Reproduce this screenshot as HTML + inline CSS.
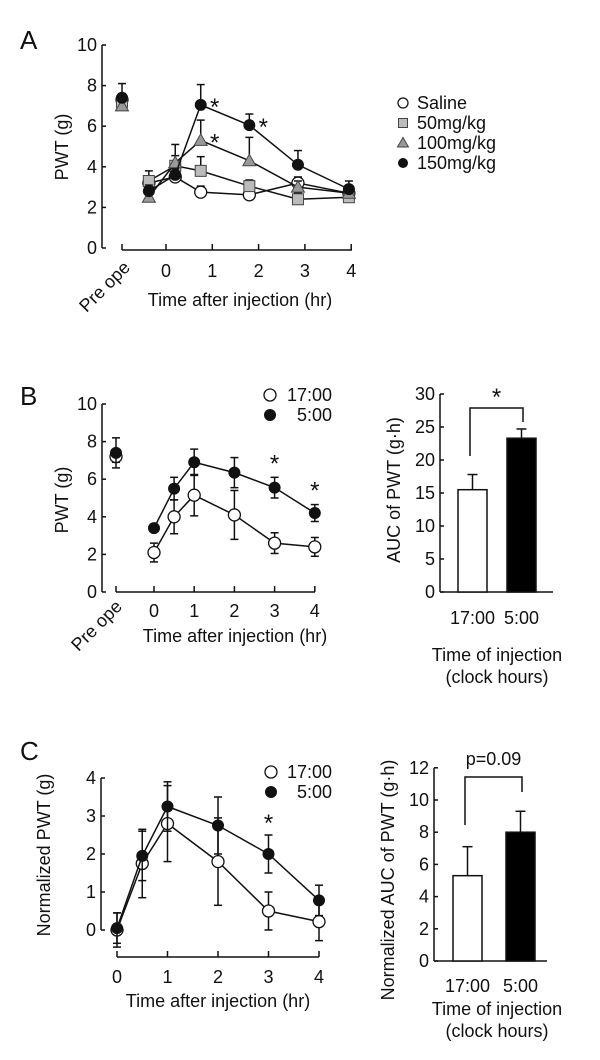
<!DOCTYPE html>
<html><head><meta charset="utf-8">
<style>
body{margin:0;background:#fff;}
svg{display:block;font-family:"Liberation Sans",sans-serif;}
text{fill:#111;}
</style></head>
<body>
<svg id="fig" width="600" height="1060" viewBox="0 0 600 1060" xmlns="http://www.w3.org/2000/svg">
<text x="20" y="49" font-size="26">A</text>
<text x="20" y="405" font-size="26">B</text>
<text x="20" y="760" font-size="26">C</text>
</svg>
<script>
// ---------- Panel A data ----------
const aTimes = [-0.37, 0.2, 0.75, 1.8, 2.85, 3.95];
const aSaline = [7.3, 3.2, 3.5, 2.75, 2.62, 3.2, 2.7];
const a50 = [7.2, 3.3, 4.05, 3.8, 3.05, 2.4, 2.5];
const a100 = [7.0, 2.5, 4.2, 5.3, 4.3, 3.0, 2.7];
const a150 = [7.4, 2.8, 3.6, 7.05, 6.05, 4.1, 2.9];
const a150Err = [0.7, 0.3, 0.3, 1.0, 0.55, 0.7, 0.4];
const a100Err = [0.3, 0.2, 0.9, 1.0, 1.15, 0.3, 0.3];
const a50Err = [0.3, 0.5, 0.5, 0.7, 0.3, 0.3, 0.2];
const aSalineErr = [0.3, 0.3, 0.3, 0.3, 0.2, 0.3, 0.2];
const aLegend = ["Saline", "50mg/kg", "100mg/kg", "150mg/kg"];
const aYTicks = [0, 2, 4, 6, 8, 10];
const aXTicks = [0, 1, 2, 3, 4];
// ---------- Panel B data ----------
const bTimes = [0, 0.5, 1, 2, 3, 4];
const b17 = [7.2, 2.1, 4.0, 5.15, 4.1, 2.6, 2.4];
const b17Err = [0.3, 0.5, 0.9, 1.1, 1.3, 0.55, 0.5];
const b5 = [7.4, 3.4, 5.5, 6.9, 6.35, 5.55, 4.2];
const b5Err = [0.8, 0.1, 0.6, 0.7, 0.8, 0.55, 0.45];
const bYTicks = [0, 2, 4, 6, 8, 10];
const bBarCats = ["17:00", "5:00"];
const bBarVals = [15.5, 23.3];
const bBarErr = [2.3, 1.4];
const bBarTicks = [0, 5, 10, 15, 20, 25, 30];
// ---------- Panel C data ----------
const cTimes = [0, 0.5, 1, 2, 3, 4];
const c17 = [0.0, 1.75, 2.8, 1.8, 0.5, 0.22];
const c17Err = [0.45, 0.9, 1.0, 1.15, 0.5, 0.5];
const c5 = [0.05, 1.95, 3.25, 2.75, 2.0, 0.78];
const c5Err = [0.4, 0.65, 0.65, 0.75, 0.5, 0.4];
const cYTicks = [0, 1, 2, 3, 4];
const cBarCats = ["17:00", "5:00"];
const cBarVals = [5.3, 8.0];
const cBarErr = [1.8, 1.3];
const cBarTicks = [0, 2, 4, 6, 8, 10, 12];

const FS = 18;
const svg = document.getElementById('fig');
const NS = 'http://www.w3.org/2000/svg';
function mk(tag, attrs, parent) {
  const e = document.createElementNS(NS, tag);
  for (const k in attrs) e.setAttribute(k, attrs[k]);
  (parent || svg).appendChild(e);
  return e;
}
function txt(x, y, s, size, anchor, parent) {
  const t = mk('text', {x: x, y: y, 'font-size': size, 'text-anchor': anchor || 'middle'}, parent);
  t.textContent = s;
  return t;
}
function line(x1, y1, x2, y2, parent, w) {
  return mk('line', {x1: x1, y1: y1, x2: x2, y2: y2, stroke: '#111', 'stroke-width': w || 1.5}, parent);
}
function marker(kind, x, y, parent, r) {
  r = r || 6;
  let m;
  if (kind === 'open') m = mk('circle', {cx: x, cy: y, r: r, fill: '#fff', stroke: '#111', 'stroke-width': 1.3}, parent);
  else if (kind === 'filled') m = mk('circle', {cx: x, cy: y, r: r, fill: '#111'}, parent);
  else if (kind === 'square') m = mk('rect', {x: x - r + 0.5, y: y - r + 0.5, width: 2 * r - 1, height: 2 * r - 1, fill: '#bbb', stroke: '#444', 'stroke-width': 1}, parent);
  else m = mk('polygon', {points: (x) + ',' + (y - r - 0.5) + ' ' + (x - r - 0.5) + ',' + (y + r - 1) + ' ' + (x + r + 0.5) + ',' + (y + r - 1), fill: '#999', stroke: '#444', 'stroke-width': 1}, parent);
  return m;
}
function yAxis(g, x, ys, ticks, top, bottom) {
  line(x, top, x, bottom, g);
  ticks.forEach(v => {
    line(x, ys(v), x + 4, ys(v), g);
    const t = txt(x - 5, ys(v) + 6, String(v), FS, 'end', g);
    
    
  });
}
function series(g, name, kind, xs, vals, errs, xsc, ysc, connectFrom, errDown) {
  const sg = mk('g', {}, g);
  
  
  let pts = [];
  xs.forEach((t, i) => { if (i >= connectFrom) pts.push(xsc(t) + ',' + ysc(vals[i])); });
  mk('polyline', {points: pts.join(' '), fill: 'none', stroke: '#111', 'stroke-width': 1.5}, sg);
  xs.forEach((t, i) => {
    const x = xsc(t), y = ysc(vals[i]);
    const yTop = ysc(vals[i] + errs[i]);
    const yBot = errDown ? ysc(vals[i] - errs[i]) : y;
    line(x, yTop, x, yBot, sg);
    line(x - 4, yTop, x + 4, yTop, sg);
    if (errDown) line(x - 4, yBot, x + 4, yBot, sg);
  });
  xs.forEach((t, i) => {
    const m = marker(kind, xsc(t), ysc(vals[i]), sg);
    
    
  });
}
function star(g, x, y) {
  const t = txt(x, y, '*', 24, 'middle', g);
  
  
}
function rotLabel(g, x, y, s, size, name) {
  const t = txt(x, y, s, size, 'middle', g);
  t.setAttribute('transform', 'rotate(-90 ' + x + ' ' + y + ')');
  
  
}

// ================= Panel A =================
(function () {
  const g = mk('g', {});
  
  
  const ys = v => 248 - v * 20.3;
  const xs = t => 166 + t * 46.3;
  const preX = 122;
  yAxis(g, 102, ys, aYTicks, 45, 248);
  line(preX, 250, 352, 250, g);
  line(preX, 250, preX, 244, g);
  aXTicks.forEach(t => {
    line(xs(t), 250, xs(t), 244, g);
    const l = txt(xs(t), 277, String(t), FS, 'middle', g);
    
    
  });
  const pre = txt(106, 292, 'Pre ope', FS, 'middle', g);
  pre.setAttribute('transform', 'rotate(-45 106 288)');
  
  
  const xt = txt(240, 306, 'Time after injection (hr)', FS, 'middle', g);
  
  
  rotLabel(g, 68, 147, 'PWT (g)', FS, 'y-axis-title');
  const allX = [null].concat(aTimes);
  const sx = t => t === null ? preX : xs(t);
  const defs = [['saline', 'open', aSaline, aSalineErr], ['dose-50', 'square', a50, a50Err], ['dose-100', 'tri', a100, a100Err], ['dose-150', 'filled', a150, a150Err]];
  defs.forEach(d => series(g, 'series-' + d[0], d[1], allX, d[2], d[3], sx, ys, 1, false));
  star(g, xs(aTimes[2]) + 14, ys(a150[3]) + 10);
  star(g, xs(aTimes[3]) + 14, ys(a150[4]) + 10);
  star(g, xs(aTimes[2]) + 14, ys(a100[3]) + 10);
  const kinds = ['open', 'square', 'tri', 'filled'];
  aLegend.forEach((s, i) => {
    const lg = mk('g', {}, g);
    
    
    const y = 103 + i * 20;
    marker(kinds[i], 403, y, lg, 5);
    txt(417, y + 6, s, FS, 'start', lg);
  });
})();

// ================= Panel B line =================
(function () {
  const g = mk('g', {});
  
  
  const ys = v => 592 - v * 18.8;
  const xs = t => 154 + t * 40.2;
  const preX = 116;
  yAxis(g, 102, ys, bYTicks, 404, 592);
  line(preX, 592, 315, 592, g);
  line(preX, 592, preX, 586, g);
  bTimes.forEach(t => { if (Number.isInteger(t)) {
    line(xs(t), 592, xs(t), 586, g);
    const l = txt(xs(t), 617, String(t), FS, 'middle', g);
    
    
  }});
  const pre = txt(98, 631, 'Pre ope', FS, 'middle', g);
  pre.setAttribute('transform', 'rotate(-45 98 627)');
  
  
  const xt = txt(235, 642, 'Time after injection (hr)', FS, 'middle', g);
  
  
  rotLabel(g, 68, 500, 'PWT (g)', FS, 'y-axis-title');
  const allX = [null].concat(bTimes);
  const sx = t => t === null ? preX : xs(t);
  series(g, 'series-17h', 'open', allX, b17, b17Err, sx, ys, 1, true);
  series(g, 'series-5h', 'filled', allX, b5, b5Err, sx, ys, 1, true);
  star(g, xs(3), ys(b5[5] + b5Err[5]) - 6);
  star(g, xs(4), ys(b5[6] + b5Err[6]) - 6);
  [['open', '17:00'], ['filled', '5:00']].forEach((d, i) => {
    const lg = mk('g', {}, g);
    
    
    const y = 395 + i * 20;
    marker(d[0], 270, y, lg);
    txt(332, y + 6, d[1], FS, 'end', lg);
  });
})();

// ================= Bar charts =================
function barChart(name, ax, y0, pxPer, ticks, cats, vals, errs, barXs, yTitle, yTitleX, yTitleY, sigText, bracketTop, leftDrop, rightDrop, sigY, catY, titleY) {
  const g = mk('g', {});
  
  
  const ys = v => y0 - v * pxPer;
  yAxis(g, ax, ys, ticks, ys(ticks[ticks.length - 1]), y0);
  line(ax, y0, ax + 113, y0, g);
  const fills = ['#fff', '#000'];
  cats.forEach((c, i) => {
    const x = barXs[i];
    const b = mk('rect', {x: x, y: ys(vals[i]), width: 29, height: y0 - ys(vals[i]), fill: fills[i], stroke: '#111', 'stroke-width': 1.5}, g);
    
    
    const cx = x + 14.5;
    line(cx, ys(vals[i]), cx, ys(vals[i] + errs[i]), g);
    line(cx - 5, ys(vals[i] + errs[i]), cx + 5, ys(vals[i] + errs[i]), g);
    const l = txt(cx, catY, c, FS, 'middle', g);
    
    
  });
  const bx1 = barXs[0] + 12, bx2 = barXs[1] + 16;
  mk('polyline', {points: bx1 + ',' + leftDrop + ' ' + bx1 + ',' + bracketTop + ' ' + bx2 + ',' + bracketTop + ' ' + bx2 + ',' + rightDrop, fill: 'none', stroke: '#111', 'stroke-width': 1.5}, g);
  const s = txt((bx1 + bx2) / 2, sigY, sigText, sigText === '*' ? 24 : FS, 'middle', g);
  
  
  const t1 = txt(497, titleY, 'Time of injection', FS, 'middle', g);
  
  
  const t2 = txt(497, titleY + 22, '(clock hours)', FS, 'middle', g);
  
  
  rotLabel(g, yTitleX, yTitleY, yTitle, FS, 'y-axis-title');
}
barChart('panel-b-bar-chart', 440, 592, 6.6, bBarTicks, bBarCats, bBarVals, bBarErr, [458, 507], 'AUC of PWT (g\u00b7h)', 400, 490, '*', 408, 456, 422, 405, 624, 661);
barChart('panel-c-bar-chart', 434, 961, 16.1, cBarTicks, cBarCats, cBarVals, cBarErr, [453, 506], 'Normalized AUC of PWT (g\u00b7h)', 394, 880, 'p=0.09', 777, 825, 792, 765, 992, 1015);

// ================= Panel C line =================
(function () {
  const g = mk('g', {});
  
  
  const ys = v => 930 - v * 38;
  const xs = t => 117 + t * 50.5;
  yAxis(g, 101, ys, cYTicks, 778, 930);
  line(117, 957, 319, 957, g);
  cTimes.forEach(t => { if (Number.isInteger(t)) {
    line(xs(t), 957, xs(t), 951, g);
    const l = txt(xs(t), 983, String(t), FS, 'middle', g);
    
    
  }});
  const xt = txt(218, 1007, 'Time after injection (hr)', FS, 'middle', g);
  
  
  rotLabel(g, 50, 855, 'Normalized PWT (g)', FS, 'y-axis-title');
  series(g, 'series-17h', 'open', cTimes, c17, c17Err, xs, ys, 0, true);
  series(g, 'series-5h', 'filled', cTimes, c5, c5Err, xs, ys, 0, true);
  star(g, xs(3), ys(c5[4] + c5Err[4]) - 4);
  [['open', '17:00'], ['filled', '5:00']].forEach((d, i) => {
    const lg = mk('g', {}, g);
    
    
    const y = 772 + i * 20;
    marker(d[0], 271, y, lg);
    txt(332, y + 6, d[1], FS, 'end', lg);
  });
})();
</script>
</body></html>
